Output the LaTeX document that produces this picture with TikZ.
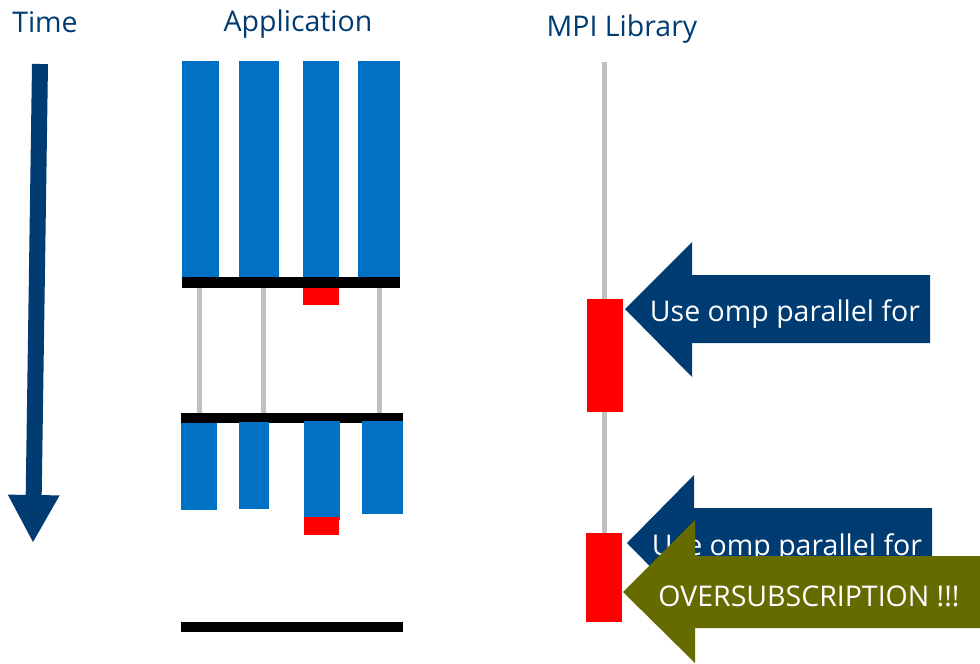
\documentclass[tikz,border=0pt]{standalone}
\usepackage{fontspec}
\setmainfont{Open Sans}
\usepackage{tikz}
\usetikzlibrary{arrows.meta}
\definecolor{darkblue}{HTML}{003C71}
\definecolor{appblue}{HTML}{0071C5}
\definecolor{olive}{HTML}{666B00}
\definecolor{rail}{HTML}{C0C0C0}

\begin{document}
\begin{tikzpicture}[x=1pt, y=-1pt, blk/.style={fill=appblue, inner sep=0, outer sep=0}, bar/.style={fill=black, inner sep=0, outer sep=0}, hot/.style={fill=red, inner sep=0, outer sep=0}, title/.style={text=darkblue, font=\fontsize{28.5}{32}\selectfont}, label/.style={text=white, font=\fontsize{28.5}{32}\selectfont}, g/.style={draw=rail, line width=5pt}]
            \useasboundingbox (0,0) rectangle (980,664);
            % titles
            \node[title] (time) at (45,22) {Time};
            \node[title] (app) at (298,24) {Application};
            \node[title] (mpi) at (622,29) {MPI Library};
            % time arrow
            \coordinate (t0) at (40,64);
            \coordinate (t1) at (33,543);
            \draw[darkblue, line width=16pt, -{Triangle[width=48pt, length=48pt]}] (t0) -- (t1);
            % mpi rail
            \coordinate (m0) at (604,62);
            \coordinate (m1) at (604,540);
            \draw[g] (m0) -- (m1);
            % first phase
            \node[blk, minimum width=37, minimum height=216] (a1) at (200.5,169) {};
            \node[blk, minimum width=40, minimum height=216] (a2) at (259,169) {};
            \node[blk, minimum width=36, minimum height=216] (a3) at (321,169) {};
            \node[blk, minimum width=42, minimum height=216] (a4) at (379,169) {};
            \node[bar, minimum width=218, minimum height=11] (s1) at (291,282.5) {};
            \node[hot, minimum width=36, minimum height=17] (r1) at (321,296.5) {};
            % second phase
            \node[bar, minimum width=222, minimum height=10] (s2) at (292,418) {};
            \node[blk, minimum width=36, minimum height=87] (b1) at (199,466.5) {};
            \node[blk, minimum width=30, minimum height=87] (b2) at (254,465.5) {};
            \node[blk, minimum width=36, minimum height=99] (b3) at (322,470.5) {};
            \node[blk, minimum width=41, minimum height=93] (b4) at (382.5,467.5) {};
            \node[hot, minimum width=35, minimum height=18] (r2) at (321.5,526) {};
            \node[bar, minimum width=222, minimum height=10] (s3) at (292,627) {};
            % waiting threads
            \draw[g] (s1.south -| 199,0) -- (s2.north -| 199,0);
            \draw[g] (s1.south -| 263,0) -- (s2.north -| 263,0);
            \draw[g] (s1.south -| 379,0) -- (s2.north -| 379,0);
            % library calls
            \node[hot, minimum width=36, minimum height=113] (c1) at (605,355.5) {};
            \node[hot, minimum width=36, minimum height=89] (c2) at (604,577.5) {};
            % callouts
            \fill[darkblue] (625,309) -- (692,242) -- (692,275) -- (930,275) -- (930,343) -- (692,343) -- (692,377) -- cycle;
            \node[label] (omp1) at (785,314) {Use omp parallel for};
            \fill[darkblue] (627,543) -- (694,475) -- (694,508) -- (932,508) -- (932,576) -- (694,576) -- (694,611) -- cycle;
            \node[label] (omp2) at (787,548) {Use omp parallel for};
            \fill[olive] (623,592) -- (695,520) -- (695,556) -- (980,556) -- (980,628) -- (695,628) -- (695,663) -- cycle;
            \node[label] (over) at (809,596) {OVERSUBSCRIPTION !!!};
        \end{tikzpicture}
\end{document}
